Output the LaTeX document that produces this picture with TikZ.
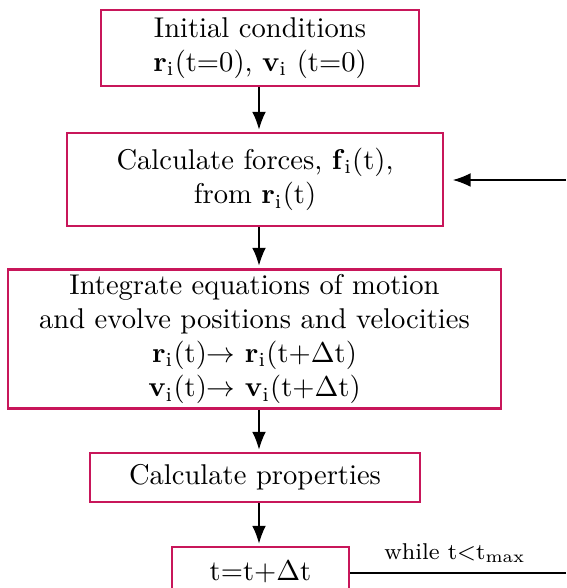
\documentclass[tikz,border=0pt]{standalone}
\usetikzlibrary{arrows.meta}
\definecolor{boxred}{RGB}{200,22,90}
\newcommand{\vb}[1]{\textbf{#1}\textsubscript{i}}
\begin{document}
\begin{tikzpicture}[x=0.35pt,y=-0.35pt,
  stepbox/.style={draw=boxred,line width=0.9pt,rectangle,align=center,inner sep=0pt,font=\normalsize},
  arr/.style={line width=0.45pt,-{Latex[length=6.2pt,width=4.8pt]},shorten >=1.2pt}]
\useasboundingbox (0,0) rectangle (566,588);
\clip (0,0) rectangle (566,588);
\node[stepbox,minimum width=318*0.35pt,minimum height=76*0.35pt] (init) at (260,48)
  {Initial conditions\\ \vb{r}(t{=}0), \vb{v} (t{=}0)};
\node[stepbox,minimum width=376*0.35pt,minimum height=93*0.35pt] (force) at (255,179.5)
  {Calculate forces, \vb{f}(t),\\ from \vb{r}(t)};
\node[stepbox,minimum width=493*0.35pt,minimum height=139*0.35pt] (integ) at (254.5,339)
  {Integrate equations of motion\\ and evolve positions and velocities\\
   \vb{r}(t)$\rightarrow$ \vb{r}(t{+}$\Delta$t)\\
   \vb{v}(t)$\rightarrow$ \vb{v}(t{+}$\Delta$t)};
\node[stepbox,minimum width=330*0.35pt,minimum height=49*0.35pt] (prop) at (255,477.5)
  {Calculate properties};
\node[stepbox,minimum width=177*0.35pt,minimum height=50*0.35pt] (tstep) at (260.5,572)
  {t{=}t{+}$\Delta$t};
\coordinate (loopend) at (566,573);
\coordinate (loopin) at (566,180);
\draw[arr] (init.south -| 259,0) -- (259,133);
\draw[arr] (force.south -| 259,0) -- (259,269);
\draw[arr] (integ.south -| 259,0) -- (259,453);
\draw[arr] (prop.south -| 259,0) -- (259,547);
\draw[line width=0.45pt] (tstep.east |- loopend) -- (loopend);
\node[font=\footnotesize,inner sep=0pt] (looplabel) at (455,553) {while t{<}t\textsubscript{max}};
\draw[arr,shorten >=3pt] (loopin) -- (force.east |- loopin);
\end{tikzpicture}
\end{document}
